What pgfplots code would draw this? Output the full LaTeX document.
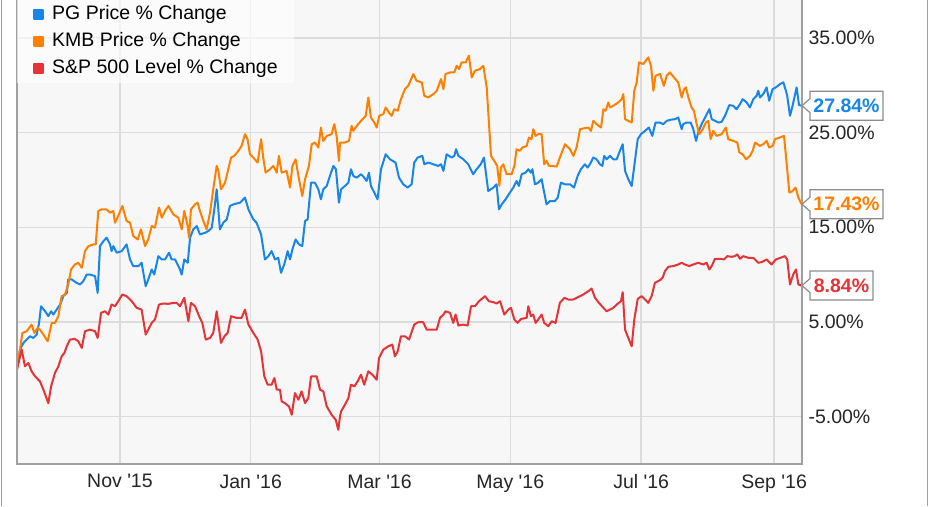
\documentclass[border=0pt]{standalone}
\usepackage{pgfplots}
\pgfplotsset{compat=1.18}
\usepackage{fontspec}
\setmainfont{Liberation Sans}[Ligatures=TeXOff]
\definecolor{pgblue}{RGB}{24,134,232}
\definecolor{kmborange}{RGB}{255,128,0}
\definecolor{spred}{RGB}{228,52,56}
\definecolor{gridc}{RGB}{220,220,220}
\definecolor{framec}{RGB}{160,160,160}
\definecolor{plotbg}{RGB}{247,247,247}
\definecolor{callc}{RGB}{140,140,140}
\newcommand\lblfont{\fontsize{19.5}{21}\selectfont}
\begin{document}
\begin{tikzpicture}
\useasboundingbox (0pt,0pt) rectangle (931pt,506pt);
\fill[white] (0pt,0pt) rectangle (931pt,506pt);
\draw[framec, line width=1.5pt] (1.5pt,0pt) -- (1.5pt,506pt);
\draw[framec, line width=1.5pt] (927.5pt,0pt) -- (927.5pt,506pt);
\begin{axis}[
  at={(17pt,42pt)}, anchor=south west, scale only axis,
  width=785pt, height=464pt,
  xmin=0, xmax=366, ymin=-10, ymax=39,
  axis line style={draw=none},
  axis background/.style={fill=plotbg},
  grid=major, major grid style={gridc, line width=1.3pt},
  major tick length=0pt,
  xtick={48,109,169,230,291,353},
  xticklabels={Nov '15, Jan '16, Mar '16, May '16, Jul '16, Sep '16},
  ytick={-5,5,15,25,35},
  yticklabels={-5.00\%,5.00\%,15.00\%,25.00\%,35.00\%},
  yticklabel pos=right,
  ticklabel style={font=\lblfont, text=black!85},
  xticklabel style={yshift=-7pt},
  yticklabel style={xshift=3pt},
  clip=false,
  legend cell align=left,
  legend style={at={(0,1)}, anchor=north west, draw=none, fill=white, fill opacity=0.6, text opacity=1,
    inner xsep=16pt, inner ysep=5.6pt, font=\lblfont,
    nodes={inner sep=0pt, text height=13.5pt, text depth=4pt}, row sep=9.5pt},
  legend image code/.code={\fill[#1, fill opacity=1] (0pt,-4.5pt) rectangle (9pt,4.5pt); \path (17pt,0pt);},
  every axis plot/.append style={line width=2pt, line join=round},
]
\addplot[pgblue] coordinates {
(0,0) (1.4,2.08) (3.0,2.78) (4.5,3.14) (6.1,3.49) (7.6,3.31) (9.2,3.67) (10.3,4.90) (11.2,6.66) (13.1,6.13) (14.6,5.61) (15.9,6.13) (16.9,5.78) (18.5,6.31) (20.1,6.84) (21.6,7.72) (23.2,8.07) (23.9,9.49) (25.5,9.49) (27.8,9.13) (29.4,8.96) (30.9,9.31) (32.5,10.01) (34.0,10.01) (36.4,9.84) (37.6,8.07) (38.7,13.01) (40.3,13.54) (41.8,13.90) (43.4,13.19) (44.1,12.48) (44.9,13.01) (46.5,12.31) (48.8,12.48) (51.1,13.19) (52.7,11.60) (54.2,10.90) (56.6,10.90) (58.1,11.25) (60.0,8.78) (61.2,9.49) (62.8,10.54) (64.0,10.01) (65.9,11.95) (67.5,11.60) (69.0,11.60) (70.9,12.31) (72.1,11.60) (73.7,11.60) (76.0,10.54) (76.8,10.01)
(78.0,11.60) (79.6,11.25) (80.7,13.90) (82.2,14.78) (83.8,15.13) (85.3,14.25) (87.7,14.42) (89.2,14.60) (90.8,14.95) (92.0,16.89) (93.1,19.01) (94.6,14.78) (96.2,15.48) (97.8,15.83) (99.3,17.25) (100.9,17.42) (104.0,17.60) (106.3,18.13) (107.9,16.89) (110.2,15.83) (111.7,15.48) (113.8,14.25) (115.6,11.60) (117.2,11.95) (118.7,12.48) (120.3,11.60) (121.8,11.78) (123.1,10.19) (124.6,11.07) (126.2,12.48) (127.3,11.60) (128.4,12.66) (129.9,13.72) (131.5,13.19) (133.0,13.01) (134.3,15.66) (135.5,15.83) (137.1,19.71) (138.9,19.71) (140.5,19.01) (141.7,17.95) (142.8,19.01) (144.4,19.36) (145.9,20.42) (147.5,21.48) (148.7,21.13) (150.1,17.60)
(151.1,19.01) (152.9,19.36) (154.5,19.71) (155.7,21.13) (156.8,20.42) (158.4,20.24) (160.4,20.60) (161.9,20.24) (163.0,19.89) (164.1,20.77) (165.0,19.36) (166.6,18.66) (168.1,17.95) (169.7,21.13) (171.9,22.71) (173.9,22.18) (176.5,21.83) (178.1,20.24) (180.1,19.54) (182.1,19.19) (184.0,19.54) (185.2,21.83) (186.8,22.36) (189.0,22.54) (189.9,21.65) (191.8,21.83) (194.1,21.65) (196.4,21.48) (197.7,21.65) (198.8,20.95) (200.3,22.71) (202.6,22.36) (203.9,22.54) (204.7,23.24) (205.8,22.54) (208.1,22.18) (210.4,21.65) (212.7,20.60) (214.3,21.13) (216.2,21.65) (217.7,22.36) (219.7,18.83) (222.1,19.19) (223.6,19.54) (224.7,16.89)
(226.0,17.42) (227.8,17.95) (229.8,18.66) (231.4,19.19) (232.9,19.89) (234.0,19.36) (235.3,20.60) (237.1,20.77) (238.4,21.13) (239.6,20.77) (240.3,21.13) (241.5,19.54) (243.0,19.71) (244.6,20.07) (245.8,18.66) (246.9,17.42) (248.5,17.77) (250.8,17.77) (252.1,18.13) (253.6,19.71) (255.5,19.54) (257.8,19.54) (259.7,19.19) (261.4,20.42) (262.9,21.13) (264.8,21.65) (266.0,21.30) (267.1,21.65) (268.7,22.36) (270.2,22.18) (271.8,21.65) (272.9,21.48) (273.8,22.54) (274.9,22.18) (276.5,22.54) (278.0,22.18) (279.6,22.18) (281.1,23.07) (282.4,23.77) (283.5,20.95) (285.0,20.07) (286.6,19.36) (287.8,21.48) (289.4,24.30) (290.9,24.83) (292.8,25.18) (294.6,25.53) (296.2,24.65) (297.7,26.06) (299.8,26.06)
(301.3,25.89) (302.9,26.24) (304.7,26.35) (306.8,26.42) (308.3,26.59) (309.9,25.36) (310.6,25.89) (312.2,26.06) (314.1,26.06) (315.3,25.36) (316.6,24.12) (317.6,25.00) (319.2,25.89) (321.2,26.77) (322.8,27.47) (323.9,26.42) (325.4,26.24) (327.0,26.06) (328.5,26.13) (330.1,26.77) (332.1,27.90) (333.9,27.83) (335.5,27.47) (337.1,28.00) (338.3,28.53) (340.2,28.18) (341.7,27.65) (343.3,28.53) (344.8,28.88) (345.6,29.41) (346.4,28.71) (347.9,29.06) (349.5,29.77) (350.7,28.36) (352.3,29.59) (353.8,29.77) (355.7,30.12) (357.3,30.30) (358.5,29.41) (359.1,28.88) (360.4,26.77) (361.6,27.83) (363.5,29.77) (364.6,27.90) (365.8,27.84)
};
\addlegendentry{PG Price \% Change}
\addplot[kmborange] coordinates {
(0,0) (1.4,2.08) (2.5,3.84) (4.5,4.02) (6.8,4.72) (8.1,3.84) (9.6,4.37) (10.7,4.19) (12.3,3.67) (14.3,2.96) (16.2,4.90) (17.7,4.90) (19.3,5.61) (20.8,7.72) (22.4,7.90) (23.9,8.96) (25.2,10.54) (27.0,11.07) (28.6,11.25) (30.2,10.72) (31.7,12.48) (33.3,13.01) (35.6,13.19) (36.7,13.19) (37.9,16.72) (39.5,16.89) (41.8,16.89) (43.4,16.54) (44.9,16.72) (45.7,15.48) (47.2,16.19) (49.1,17.25) (51.1,15.66) (52.7,15.48) (54.2,14.07) (56.3,13.72) (57.8,14.78) (59.7,13.01) (61.2,13.72) (62.8,15.13) (64.3,14.95) (66.2,17.07) (67.5,16.01) (69.0,16.72) (70.6,17.25) (72.9,16.36) (75.2,16.01)
(76.8,14.78) (78.0,16.72) (79.6,15.13) (80.2,13.90) (81.1,16.89) (83.0,17.42) (84.2,17.60) (85.3,16.72) (86.9,15.66) (88.4,14.78) (90.0,16.54) (91.5,19.01) (93.1,21.48) (93.9,20.95) (95.1,19.01) (97.0,19.71) (98.5,21.13) (99.8,22.36) (101.3,22.54) (103.2,23.07) (104.7,23.59) (106.3,24.83) (107.5,24.30) (108.6,22.71) (110.2,22.36) (112.2,21.83) (113.8,24.30) (114.8,22.36) (115.9,20.77) (118.0,21.13) (119.5,21.48) (121.1,20.77) (122.1,22.54) (123.4,20.77) (125.7,20.95) (127.3,19.19) (128.4,21.48) (129.9,22.18) (131.2,20.42) (133.0,18.30) (134.3,20.07) (136.1,21.48) (137.4,23.77) (138.9,23.95) (140.5,23.42) (141.7,25.53) (142.8,24.12) (144.4,24.65) (146.7,24.83) (147.9,25.89) (149.0,24.65) (150.1,22.01)
(150.6,23.95) (152.9,23.95) (154.8,24.12) (156.0,25.71) (156.8,25.18) (158.4,25.71) (160.4,26.24) (162.6,26.77) (163.8,28.71) (165.0,26.59) (166.6,26.06) (167.7,25.53) (168.9,26.77) (170.8,26.95) (171.9,27.65) (173.4,27.12) (174.7,26.77) (175.9,27.47) (177.5,27.30) (179.0,28.53) (180.9,29.59) (182.4,29.94) (184.8,31.18) (186.3,30.47) (188.7,30.30) (189.9,28.88) (191.8,28.71) (194.1,29.06) (195.7,29.41) (197.7,30.65) (198.8,29.59) (199.8,31.18) (201.9,31.35) (203.9,31.35) (205.0,32.06) (206.1,31.71) (207.3,32.41) (209.2,32.41) (210.7,33.12) (212.0,30.82) (213.5,31.53) (215.9,31.71) (217.4,32.06) (219.0,29.77) (221.0,22.54) (222.5,22.01) (223.9,21.48) (224.9,19.36)
(225.6,21.30) (226.7,21.65) (228.3,20.60) (230.6,20.60) (231.9,21.48) (232.9,23.24) (234.5,23.07) (235.6,23.42) (237.6,23.59) (238.7,24.48) (239.9,24.30) (240.7,25.36) (241.8,24.65) (243.0,24.83) (244.6,24.83) (245.8,21.65) (246.9,22.01) (248.0,21.48) (249.3,21.48) (251.6,21.41) (253.1,22.36) (255.5,23.77) (257.8,23.24) (259.4,22.54) (260.9,23.42) (262.5,25.36) (264.5,25.46) (266.4,25.53) (267.6,25.18) (268.7,26.24) (270.2,25.89) (272.3,25.53) (273.4,27.47) (274.4,27.30) (275.7,28.18) (276.5,27.65) (278.0,27.83) (280.3,28.18) (281.9,28.53) (282.7,29.06) (283.5,26.42) (285.0,26.24) (286.6,26.06) (287.8,29.41) (288.9,30.30) (290.0,32.41) (292.0,32.24) (294.3,32.94) (295.6,32.06) (296.7,29.41) (297.7,31.00) (299.8,31.18)
(301.6,29.94) (302.9,31.00) (304.4,31.35) (306.3,30.82) (308.3,30.30) (309.9,28.71) (311.0,29.59) (311.9,29.77) (313.0,28.71) (314.5,27.65) (315.6,27.30) (316.9,25.89) (318.1,24.83) (319.7,25.36) (321.2,26.06) (322.3,26.24) (323.4,24.30) (324.6,25.18) (326.2,24.65) (328.5,24.83) (330.5,25.53) (331.6,24.30) (334.0,24.12) (335.8,23.95) (336.8,22.89) (338.3,22.71) (339.9,22.18) (341.7,22.54) (343.0,23.07) (344.1,23.95) (346.4,23.59) (347.9,23.77) (349.5,24.12) (350.7,23.42) (352.3,23.59) (353.4,24.30) (355.7,24.48) (357.6,24.65) (358.8,21.83) (360.1,18.66) (361.6,18.83) (363.0,19.19) (364.3,18.13) (365.8,17.43)
};
\addlegendentry{KMB Price \% Change}
\addplot[spred] coordinates {
(0,0) (2.2,2.08) (3.7,0.32) (5.3,0.67) (6.8,-0.21) (8.4,-0.74) (10.7,-1.27) (12.3,-2.15) (14.6,-3.57) (15.9,-1.80) (17.7,-0.39) (19.3,0.32) (20.8,1.37) (22.1,1.73) (23.2,2.43) (24.7,3.14) (27.0,3.21) (28.6,2.96) (30.2,2.26) (31.7,4.02) (34.0,4.19) (36.4,4.02) (37.6,3.31) (39.2,5.96) (41.0,6.13) (42.6,5.78) (44.1,6.84) (45.7,6.66) (47.2,7.19) (49.1,7.90) (51.1,7.72) (53.5,7.19) (55.8,6.49) (58.1,6.31) (60.0,3.67) (61.2,4.19) (62.8,4.90) (64.3,5.25) (66.2,6.84) (68.2,6.95) (70.6,6.91) (72.9,7.02) (74.4,7.02) (76.0,6.66)
(78.0,7.55) (79.9,5.08) (81.1,7.02) (83.0,6.66) (84.9,5.61) (86.4,4.90) (88.0,3.14) (90.0,3.31) (91.5,3.84) (93.1,6.13) (95.1,2.78) (96.7,3.49) (98.2,3.84) (99.8,5.61) (102.4,5.43) (104.7,5.43) (106.3,6.31) (107.9,4.72) (110.2,3.84) (112.2,3.14) (113.8,1.90) (115.3,-0.74) (116.9,-1.63) (118.7,-1.63) (120.0,-0.92) (121.1,-2.15) (122.6,-2.15) (123.4,-3.39) (124.9,-3.57) (126.8,-3.92) (128.1,-4.80) (129.6,-2.51) (131.2,-3.21) (132.7,-2.33) (134.3,-3.57) (135.8,-3.04) (137.1,-0.74) (139.7,-0.74) (141.3,-2.15) (142.8,-2.33) (144.4,-3.92) (146.7,-4.80) (148.6,-5.33) (149.8,-6.39) (150.6,-4.98)
(151.1,-4.45) (152.9,-3.74) (154.5,-3.04) (155.7,-1.63) (157.3,-1.80) (158.8,-1.27) (160.4,-0.57) (161.9,-1.63) (163.8,-0.21) (165.7,-0.57) (167.7,-1.10) (168.8,1.20) (170.8,2.08) (173.1,2.43) (175.0,2.61) (176.2,1.37) (177.5,1.90) (179.0,3.49) (180.9,3.49) (182.8,3.14) (185.2,4.72) (187.1,4.97) (189.4,4.97) (191.0,4.19) (193.3,4.19) (195.7,4.19) (197.2,5.43) (198.8,5.78) (199.8,6.13) (201.9,5.96) (203.4,4.90) (204.5,5.78) (205.8,4.62) (208.1,4.72) (210.1,4.62) (211.7,6.66) (213.5,6.66) (215.4,7.19) (218.2,7.72) (220.0,7.19) (222.1,7.09) (223.6,6.95)
(225.2,7.19) (227.2,5.78) (229.1,6.31) (230.3,6.49) (231.9,5.25) (233.4,4.90) (235.0,5.32) (237.6,5.43) (238.4,6.66) (239.6,5.61) (240.7,5.78) (241.8,4.90) (243.0,5.25) (244.6,5.78) (245.8,4.90) (247.7,4.55) (249.3,5.08) (251.1,4.90) (253.1,7.02) (255.2,7.55) (257.0,7.37) (259.4,7.37) (260.9,7.55) (262.5,7.72) (264.0,7.90) (266.4,8.25) (267.9,8.53) (269.5,7.55) (271.3,7.02) (273.4,6.49) (274.9,6.13) (276.5,6.31) (278.0,6.49) (279.6,6.84) (281.6,7.19) (282.4,8.15) (283.5,4.19) (285.0,3.31) (286.6,2.43) (287.8,5.25) (289.4,7.44) (291.2,7.72) (292.8,7.37) (294.3,7.02) (295.9,7.72) (297.4,9.13) (299.8,9.42)
(301.0,9.66) (302.1,10.37) (303.7,10.83) (306.0,10.90) (308.3,11.07) (309.9,11.25) (311.4,11.07) (313.4,10.90) (315.3,11.07) (317.6,11.25) (320.0,11.07) (321.5,11.25) (322.8,10.54) (323.9,10.90) (325.4,11.67) (327.7,11.67) (329.6,11.60) (331.2,11.95) (333.2,11.88) (334.7,11.95) (335.8,12.13) (337.1,11.67) (338.6,11.95) (340.9,11.78) (343.3,11.78) (345.6,11.25) (347.2,11.32) (349.5,11.60) (351.8,11.07) (353.8,11.60) (356.0,11.78) (358.0,11.95) (359.1,11.60) (360.4,8.96) (361.9,10.01) (363.2,10.54) (364.3,8.96) (365.8,8.84)
};
\addlegendentry{S\&P 500 Level \% Change}
\draw[framec, line width=1.5pt] (rel axis cs:0,1) -- (rel axis cs:0,0) -- (rel axis cs:1,0) -- (rel axis cs:1,1);
\draw[callc, line width=1.2pt, fill=white] (axis cs:366,27.84) -- ++(8pt,7pt) -- ++(0pt,7.5pt) -- ++(73pt,0pt) -- ++(0pt,-29pt) -- ++(-73pt,0pt) -- ++(0pt,7.5pt) -- cycle;
\node[font=\bfseries\lblfont, text=pgblue, inner sep=0pt] at ([xshift=44.5pt]axis cs:366,27.84) {27.84\%};
\draw[callc, line width=1.2pt, fill=white] (axis cs:366,17.43) -- ++(8pt,7pt) -- ++(0pt,7.5pt) -- ++(73pt,0pt) -- ++(0pt,-29pt) -- ++(-73pt,0pt) -- ++(0pt,7.5pt) -- cycle;
\node[font=\bfseries\lblfont, text=kmborange, inner sep=0pt] at ([xshift=44.5pt]axis cs:366,17.43) {17.43\%};
\draw[callc, line width=1.2pt, fill=white] (axis cs:366,8.84) -- ++(8pt,7pt) -- ++(0pt,7.5pt) -- ++(63pt,0pt) -- ++(0pt,-29pt) -- ++(-63pt,0pt) -- ++(0pt,7.5pt) -- cycle;
\node[font=\bfseries\lblfont, text=spred, inner sep=0pt] at ([xshift=39.5pt]axis cs:366,8.84) {8.84\%};
\end{axis}
\end{tikzpicture}
\end{document}
